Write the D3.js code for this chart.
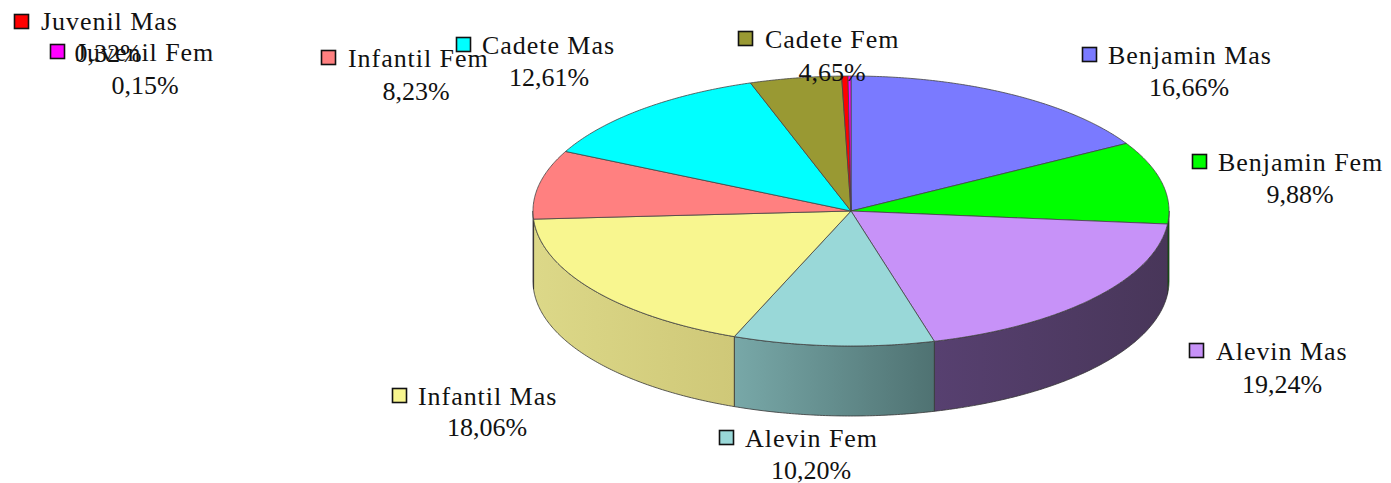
<!DOCTYPE html>
<html><head><meta charset="utf-8">
<style>html,body{margin:0;padding:0;background:#fff}svg{display:block}text{font-family:"Liberation Serif",serif;font-size:26px;fill:#111}text.name{letter-spacing:.95px}</style>
<script src="https://cdn.jsdelivr.net/npm/d3@7/dist/d3.min.js"></script>
</head><body><svg id="c" width="1391" height="483"></svg>
<script>
const categories=["Benjamin Mas","Benjamin Fem","Alevin Mas","Alevin Fem","Infantil Mas","Infantil Fem","Cadete Mas","Cadete Fem","Juvenil Mas","Juvenil Fem"];
const values=[16.66,9.88,19.24,10.20,18.06,8.23,12.61,4.65,0.32,0.15];
const valueLabels=["16,66%","9,88%","19,24%","10,20%","18,06%","8,23%","12,61%","4,65%","0,32%","0,15%"];

const colors=["#7a7aff","#00ff00","#c792f8","#99d8d8","#f8f68f","#ff8080","#00ffff","#999933","#ff0000","#ff00ff"];
const wallA=["#3d3d80","#006000","#574070","#78a8a8","#dcd888","#804040","#008080","#4d4d1a","#800000","#800080"];
const wallB=["#3d3d80","#006000","#483659","#4f7272","#cfc878","#804040","#008080","#4d4d1a","#800000","#800080"];
// [keyX,keyY,textX,textBaseline,valueCenterX,valueBaseline]
const layout=[
 [1082,47,1108,64,1189,96],[1192,154,1218,171,1300,203],[1189,343,1216,360,1282,393],
 [719,430,745,447,811,479],[392,388,418,405,487,436],[321,50,348,67,416,100],
 [456,37,482,54,549,86],[738,31,765,48,832,81],[14,14,41,30,108,62],[50,44,76,61,145,94]];

const cx=851,cy=211,rx=318,ry=135,depth=70;
const svg=d3.select("#c");
const X=d3.scaleLinear().domain([-1,1]).range([cx-rx,cx+rx]);
const Y=d3.scaleLinear().domain([-1,1]).range([cy-ry,cy+ry]);
const slices=d3.pie().sort(null).value(d=>d)(values);
const pt=(t,dy=0)=>[X(Math.sin(t)),Y(-Math.cos(t))+dy];
const line=d3.line();
const arcPts=(a,b,dy=0)=>{const n=Math.max(2,Math.ceil((b-a)/0.01));return d3.range(n+1).map(i=>pt(a+(b-a)*i/n,dy));};

const defs=svg.append("defs");
slices.forEach((s,i)=>{
  const a=Math.max(s.startAngle,Math.PI/2),b=Math.min(s.endAngle,Math.PI*1.5);
  if(b<=a)return;
  const gid="w"+i;
  const g=defs.append("linearGradient").attr("id",gid).attr("gradientUnits","userSpaceOnUse")
    .attr("x1",pt(a)[0]).attr("x2",pt(b)[0]).attr("y1",0).attr("y2",0);
  g.append("stop").attr("offset",0).attr("stop-color",wallB[i]);
  g.append("stop").attr("offset",1).attr("stop-color",wallA[i]);
  const top=arcPts(a,b),bot=arcPts(a,b,depth).reverse();
  svg.append("path").attr("d",line(top.concat(bot))+"Z").attr("fill",`url(#${gid})`)
    .attr("stroke","#333").attr("stroke-width",0.8).attr("stroke-linejoin","round");
});
slices.forEach((s,i)=>{
  const pts=[[cx,cy]].concat(arcPts(s.startAngle,s.endAngle));
  svg.append("path").attr("d",line(pts)+"Z").attr("fill",colors[i])
    .attr("stroke","#444").attr("stroke-width",0.8).attr("stroke-linejoin","round");
});
categories.forEach((c,i)=>{
  const l=layout[i];
  svg.append("rect").attr("x",l[0]+.5).attr("y",l[1]+.5).attr("width",14).attr("height",14)
    .attr("fill",colors[i]).attr("stroke","#111").attr("stroke-width",1.6);
  svg.append("text").attr("class","name").attr("x",l[2]).attr("y",l[3]).text(c);
  svg.append("text").attr("x",l[4]).attr("y",l[5]).attr("text-anchor","middle").text(valueLabels[i]);
});
</script></body></html>
